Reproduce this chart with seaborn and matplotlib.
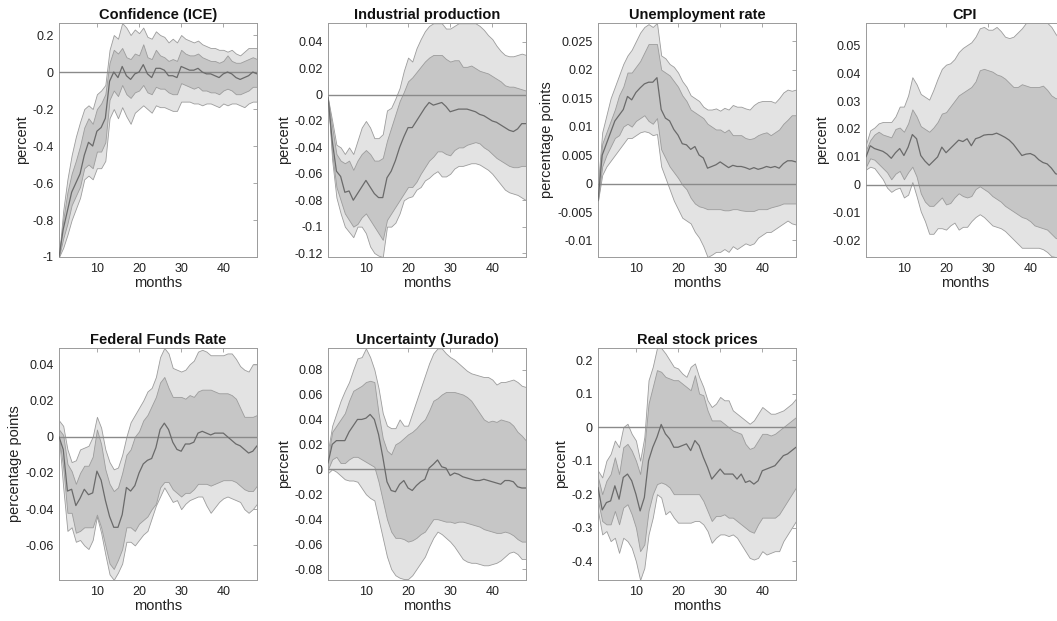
import matplotlib
matplotlib.use("Agg")
import matplotlib.pyplot as plt
import seaborn as sns
import numpy as np
import pandas as pd

months = list(range(1, 49))

# ---------------- Confidence (ICE) ----------------
conf_med = [-1, -0.85, -0.75, -0.65, -0.6, -0.55, -0.45, -0.38, -0.4, -0.32, -0.3, -0.25, -0.05, 0.0, -0.03, 0.03,
            -0.02, -0.04, -0.01, 0.0, 0.04, -0.01, -0.03, 0.02, 0.02, 0.01, -0.02, -0.02, -0.03, 0.03, 0.02, 0.01,
            0.01, 0.02, 0.0, -0.01, -0.01, -0.02, -0.03, -0.01, 0.0, -0.01, -0.03, -0.04, -0.03, -0.02, 0.0, -0.01]
conf_in_hi = [-1, -0.8, -0.65, -0.55, -0.48, -0.4, -0.3, -0.25, -0.28, -0.2, -0.17, -0.12, 0.05, 0.12, 0.1, 0.13,
              0.08, 0.07, 0.1, 0.09, 0.15, 0.08, 0.07, 0.12, 0.09, 0.08, 0.06, 0.07, 0.06, 0.12, 0.1, 0.09,
              0.09, 0.1, 0.08, 0.07, 0.06, 0.06, 0.05, 0.06, 0.09, 0.06, 0.05, 0.05, 0.06, 0.07, 0.08, 0.07]
conf_in_lo = [-1, -0.9, -0.82, -0.72, -0.67, -0.62, -0.52, -0.5, -0.52, -0.43, -0.43, -0.38, -0.15, -0.1, -0.13, -0.07,
              -0.12, -0.14, -0.11, -0.1, -0.07, -0.11, -0.12, -0.08, -0.09, -0.09, -0.11, -0.12, -0.12, -0.06, -0.07, -0.08,
              -0.09, -0.08, -0.1, -0.1, -0.11, -0.11, -0.12, -0.1, -0.09, -0.1, -0.12, -0.12, -0.11, -0.1, -0.08, -0.08]
conf_out_hi = [-1, -0.75, -0.58, -0.45, -0.35, -0.27, -0.2, -0.18, -0.2, -0.12, -0.1, -0.07, 0.12, 0.2, 0.18, 0.265,
               0.24, 0.2, 0.23, 0.21, 0.24, 0.19, 0.18, 0.22, 0.2, 0.19, 0.16, 0.18, 0.16, 0.2, 0.18, 0.17,
               0.16, 0.17, 0.15, 0.14, 0.13, 0.13, 0.12, 0.12, 0.11, 0.12, 0.1, 0.09, 0.11, 0.13, 0.13, 0.13]
conf_out_lo = [-1, -0.95, -0.88, -0.8, -0.74, -0.68, -0.58, -0.56, -0.58, -0.52, -0.52, -0.48, -0.25, -0.2, -0.25, -0.19,
               -0.24, -0.28, -0.22, -0.2, -0.18, -0.2, -0.22, -0.18, -0.19, -0.19, -0.2, -0.21, -0.21, -0.16, -0.16, -0.16,
               -0.17, -0.17, -0.18, -0.17, -0.17, -0.18, -0.19, -0.17, -0.18, -0.17, -0.17, -0.18, -0.19, -0.17, -0.16, -0.16]

# ---------------- Industrial production ----------------
ip_med = [-0.002, -0.035, -0.058, -0.062, -0.074, -0.073, -0.08, -0.075, -0.07, -0.065, -0.07, -0.075, -0.078, -0.078, -0.063, -0.058,
          -0.05, -0.04, -0.032, -0.025, -0.025, -0.02, -0.015, -0.01, -0.006, -0.008, -0.007, -0.006, -0.009, -0.013, -0.012, -0.011,
          -0.011, -0.011, -0.012, -0.013, -0.015, -0.016, -0.018, -0.02, -0.021, -0.023, -0.025, -0.027, -0.028, -0.026, -0.022, -0.022]
ip_in_hi = [-0.003, -0.025, -0.045, -0.05, -0.052, -0.05, -0.057, -0.05, -0.045, -0.042, -0.045, -0.05, -0.05, -0.048, -0.035, -0.025,
            -0.015, -0.005, 0.002, 0.01, 0.013, 0.017, 0.021, 0.025, 0.028, 0.03, 0.03, 0.03, 0.027, 0.025, 0.026, 0.026,
            0.021, 0.021, 0.022, 0.02, 0.018, 0.017, 0.016, 0.014, 0.012, 0.01, 0.007, 0.006, 0.006, 0.005, 0.004, 0.003]
ip_in_lo = [-0.003, -0.045, -0.07, -0.08, -0.09, -0.095, -0.1, -0.098, -0.093, -0.09, -0.095, -0.1, -0.105, -0.11, -0.095, -0.09,
            -0.085, -0.08, -0.075, -0.07, -0.07, -0.066, -0.06, -0.055, -0.05, -0.047, -0.043, -0.043, -0.045, -0.046, -0.042, -0.04,
            -0.04, -0.038, -0.037, -0.036, -0.037, -0.04, -0.042, -0.045, -0.048, -0.05, -0.052, -0.054, -0.055, -0.055, -0.054, -0.054]
ip_out_hi = [-0.003, -0.02, -0.038, -0.04, -0.045, -0.04, -0.045, -0.035, -0.025, -0.02, -0.025, -0.033, -0.033, -0.03, -0.012, -0.01,
             -0.003, 0.005, 0.018, 0.028, 0.025, 0.035, 0.042, 0.048, 0.052, 0.054, 0.054, 0.054, 0.05, 0.05, 0.052, 0.054,
             0.054, 0.054, 0.054, 0.054, 0.052, 0.049, 0.045, 0.042, 0.037, 0.033, 0.03, 0.029, 0.029, 0.03, 0.031, 0.03]
ip_out_lo = [-0.003, -0.05, -0.078, -0.09, -0.1, -0.104, -0.108, -0.1, -0.1, -0.105, -0.115, -0.12, -0.122, -0.123, -0.1, -0.1,
             -0.097, -0.09, -0.08, -0.078, -0.077, -0.072, -0.07, -0.065, -0.063, -0.06, -0.058, -0.062, -0.062, -0.06, -0.056, -0.054,
             -0.054, -0.053, -0.052, -0.052, -0.053, -0.055, -0.057, -0.06, -0.064, -0.068, -0.072, -0.074, -0.075, -0.076, -0.078, -0.08]

# ---------------- Unemployment rate ----------------
un_med = [-0.003, 0.005, 0.007, 0.009, 0.011, 0.012, 0.013, 0.0153, 0.0147, 0.016, 0.0168, 0.0175, 0.0178, 0.0178, 0.0186, 0.013,
          0.0115, 0.011, 0.0095, 0.0085, 0.007, 0.0068, 0.006, 0.0065, 0.005, 0.0045, 0.0027, 0.003, 0.0033, 0.0038, 0.0033, 0.0028,
          0.0032, 0.003, 0.003, 0.0028, 0.0025, 0.0028, 0.0025, 0.0027, 0.003, 0.0028, 0.003, 0.0027, 0.0035, 0.004, 0.004, 0.0038]
un_in_hi = [-0.001, 0.007, 0.009, 0.011, 0.013, 0.0155, 0.017, 0.0195, 0.0195, 0.0205, 0.0215, 0.023, 0.0245, 0.0245, 0.0245, 0.02,
            0.0195, 0.019, 0.018, 0.017, 0.0155, 0.0145, 0.013, 0.0125, 0.012, 0.0115, 0.0105, 0.01, 0.0095, 0.0095, 0.009, 0.0095,
            0.0085, 0.0085, 0.0085, 0.008, 0.0078, 0.008, 0.0085, 0.0088, 0.009, 0.0085, 0.009, 0.0095, 0.0105, 0.0112, 0.012, 0.012]
un_in_lo = [-0.003, 0.003, 0.005, 0.0065, 0.008, 0.0085, 0.01, 0.0105, 0.01, 0.011, 0.0115, 0.012, 0.011, 0.0105, 0.0115, 0.006,
            0.0045, 0.003, 0.002, 0.001, -0.0002, -0.001, -0.0025, -0.0035, -0.004, -0.0042, -0.0045, -0.0045, -0.0045, -0.0045, -0.0047, -0.0047,
            -0.0045, -0.0045, -0.0047, -0.0048, -0.0048, -0.0048, -0.0045, -0.0045, -0.0045, -0.0042, -0.004, -0.0038, -0.0035, -0.0035, -0.0035, -0.0035]
un_out_hi = [0.0, 0.009, 0.012, 0.015, 0.017, 0.019, 0.021, 0.0225, 0.0235, 0.025, 0.0265, 0.0275, 0.028, 0.0275, 0.0282, 0.0225,
             0.022, 0.021, 0.0205, 0.0195, 0.018, 0.017, 0.0155, 0.015, 0.0145, 0.0135, 0.013, 0.013, 0.0132, 0.0128, 0.0133, 0.013,
             0.0138, 0.0135, 0.0135, 0.0132, 0.013, 0.0138, 0.0143, 0.0145, 0.0145, 0.0145, 0.0142, 0.015, 0.016, 0.0165, 0.0163, 0.0165]
un_out_lo = [-0.003, 0.0015, 0.003, 0.004, 0.005, 0.006, 0.007, 0.008, 0.008, 0.0085, 0.009, 0.0092, 0.009, 0.0085, 0.0087, 0.003,
             0.001, -0.001, -0.003, -0.0045, -0.006, -0.0065, -0.007, -0.0085, -0.0095, -0.011, -0.0129, -0.0125, -0.012, -0.012, -0.0115, -0.012,
             -0.011, -0.0115, -0.011, -0.0105, -0.0108, -0.0105, -0.0095, -0.009, -0.0085, -0.0085, -0.008, -0.0075, -0.007, -0.0065, -0.007, -0.0072]

# ---------------- CPI ----------------
cpi_med = [0.01, 0.014, 0.013, 0.0125, 0.012, 0.011, 0.0095, 0.0115, 0.013, 0.0105, 0.0135, 0.018, 0.0165, 0.0105, 0.0085, 0.007,
           0.0085, 0.01, 0.0135, 0.0115, 0.013, 0.0145, 0.016, 0.0155, 0.0165, 0.014, 0.0165, 0.017, 0.0178, 0.018, 0.018, 0.0185,
           0.0178, 0.017, 0.016, 0.0145, 0.0125, 0.0105, 0.011, 0.0112, 0.0105, 0.009, 0.008, 0.0075, 0.006, 0.004, 0.0035, 0.0035]
cpi_in_hi = [0.0125, 0.016, 0.018, 0.019, 0.018, 0.0175, 0.017, 0.02, 0.0205, 0.019, 0.022, 0.027, 0.0245, 0.021, 0.02, 0.019,
             0.0205, 0.0225, 0.0255, 0.026, 0.028, 0.03, 0.032, 0.033, 0.034, 0.035, 0.037, 0.041, 0.0415, 0.041, 0.0405, 0.0395,
             0.039, 0.038, 0.0365, 0.035, 0.035, 0.036, 0.0355, 0.035, 0.035, 0.035, 0.0355, 0.034, 0.032, 0.031, 0.031, 0.031]
cpi_in_lo = [0.0065, 0.0095, 0.009, 0.0075, 0.006, 0.0045, 0.002, 0.004, 0.005, 0.002, 0.0045, 0.0065, 0.003, -0.003, -0.006, -0.0075,
             -0.0075, -0.006, -0.0045, -0.007, -0.0065, -0.0045, -0.003, -0.004, -0.0045, -0.004, -0.0015, -0.0005, -0.0015, -0.0025, -0.004, -0.005,
             -0.006, -0.0075, -0.0085, -0.0095, -0.0105, -0.0115, -0.012, -0.013, -0.0145, -0.015, -0.0155, -0.016, -0.0175, -0.019, -0.0195, -0.0195]
cpi_out_hi = [0.0145, 0.0195, 0.0205, 0.022, 0.0225, 0.0225, 0.0225, 0.0245, 0.028, 0.028, 0.032, 0.0385, 0.036, 0.0325, 0.0315, 0.0305,
              0.034, 0.038, 0.0415, 0.043, 0.0435, 0.045, 0.0475, 0.049, 0.05, 0.051, 0.053, 0.056, 0.0565, 0.0555, 0.0555, 0.0565,
              0.055, 0.053, 0.0525, 0.053, 0.0545, 0.056, 0.058, 0.058, 0.058, 0.058, 0.058, 0.058, 0.0565, 0.054, 0.052, 0.05]
cpi_out_lo = [0.0055, 0.0065, 0.006, 0.004, 0.002, -0.001, -0.0025, -0.0015, -0.001, -0.0045, -0.0035, 0.001, -0.004, -0.0095, -0.013, -0.0175,
              -0.0175, -0.0155, -0.0155, -0.016, -0.0145, -0.0135, -0.016, -0.015, -0.015, -0.013, -0.0115, -0.0105, -0.0115, -0.013, -0.0145, -0.015,
              -0.0155, -0.0165, -0.018, -0.0195, -0.021, -0.0225, -0.0225, -0.0225, -0.0225, -0.0225, -0.023, -0.024, -0.0255, -0.0258, -0.0258, -0.0258]

# ---------------- Federal Funds Rate ----------------
ffr_med = [0.0, -0.007, -0.03, -0.029, -0.038, -0.034, -0.029, -0.032, -0.031, -0.019, -0.024, -0.035, -0.044, -0.05, -0.05, -0.043,
           -0.028, -0.03, -0.027, -0.02, -0.015, -0.013, -0.012, -0.006, 0.004, 0.0075, 0.004, -0.003, -0.007, -0.008, -0.004, -0.004,
           -0.003, 0.002, 0.003, 0.002, 0.001, 0.002, 0.002, 0.002, 0.0, -0.002, -0.004, -0.005, -0.007, -0.009, -0.008, -0.005]
ffr_in_hi = [0.004, 0.001, -0.015, -0.019, -0.026, -0.02, -0.016, -0.016, -0.011, 0.004, -0.004, -0.018, -0.026, -0.03, -0.028, -0.02,
             -0.01, -0.007, 0.0, 0.003, 0.009, 0.012, 0.017, 0.022, 0.03, 0.033, 0.027, 0.022, 0.022, 0.022, 0.021, 0.023,
             0.022, 0.025, 0.026, 0.026, 0.026, 0.025, 0.024, 0.024, 0.024, 0.023, 0.021, 0.016, 0.011, 0.011, 0.011, 0.012]
ffr_in_lo = [0.0, -0.017, -0.042, -0.042, -0.053, -0.052, -0.05, -0.05, -0.05, -0.043, -0.05, -0.06, -0.07, -0.073, -0.068, -0.062,
             -0.05, -0.05, -0.052, -0.048, -0.046, -0.044, -0.04, -0.037, -0.028, -0.025, -0.025, -0.029, -0.031, -0.033, -0.031, -0.031,
             -0.029, -0.026, -0.026, -0.026, -0.027, -0.026, -0.025, -0.024, -0.024, -0.024, -0.025, -0.027, -0.029, -0.03, -0.03, -0.027]
ffr_out_hi = [0.009, 0.006, -0.007, -0.014, -0.013, -0.007, -0.006, -0.005, 0.0, 0.011, 0.005, -0.007, -0.014, -0.018, -0.017, -0.01,
              0.0, 0.008, 0.012, 0.016, 0.02, 0.025, 0.027, 0.033, 0.044, 0.049, 0.046, 0.038, 0.037, 0.036, 0.037, 0.04,
              0.042, 0.047, 0.048, 0.047, 0.045, 0.045, 0.045, 0.045, 0.046, 0.046, 0.043, 0.039, 0.037, 0.036, 0.04, 0.04]
ffr_out_lo = [0.0, -0.028, -0.052, -0.05, -0.058, -0.057, -0.06, -0.062, -0.057, -0.044, -0.053, -0.065, -0.076, -0.079, -0.075, -0.07,
              -0.058, -0.058, -0.06, -0.057, -0.054, -0.052, -0.045, -0.038, -0.033, -0.028, -0.032, -0.036, -0.035, -0.04, -0.037, -0.035,
              -0.034, -0.033, -0.033, -0.038, -0.042, -0.039, -0.036, -0.034, -0.033, -0.034, -0.035, -0.036, -0.04, -0.042, -0.04, -0.037]

# ---------------- Uncertainty (Jurado) ----------------
unc_med = [0.005, 0.02, 0.023, 0.023, 0.023, 0.03, 0.035, 0.04, 0.04, 0.041, 0.044, 0.04, 0.028, 0.01, -0.01, -0.017,
           -0.018, -0.012, -0.009, -0.015, -0.017, -0.013, -0.01, -0.008, 0.001, 0.004, 0.0075, 0.002, 0.001, -0.005, -0.003, -0.004,
           -0.006, -0.007, -0.008, -0.009, -0.009, -0.008, -0.009, -0.01, -0.011, -0.012, -0.009, -0.009, -0.01, -0.014, -0.015, -0.015]
unc_in_hi = [0.01, 0.03, 0.035, 0.04, 0.045, 0.055, 0.063, 0.065, 0.067, 0.07, 0.071, 0.07, 0.045, 0.025, 0.015, 0.012,
             0.02, 0.022, 0.025, 0.028, 0.03, 0.033, 0.037, 0.04, 0.047, 0.055, 0.057, 0.06, 0.062, 0.062, 0.062, 0.061,
             0.06, 0.058, 0.055, 0.05, 0.045, 0.04, 0.038, 0.039, 0.038, 0.04, 0.039, 0.038, 0.035, 0.03, 0.027, 0.023]
unc_in_lo = [0.0, 0.008, 0.01, 0.005, 0.005, 0.008, 0.01, 0.01, 0.008, 0.006, 0.004, 0.002, -0.01, -0.025, -0.04, -0.05,
             -0.055, -0.055, -0.056, -0.058, -0.057, -0.055, -0.052, -0.05, -0.045, -0.04, -0.04, -0.041, -0.042, -0.042, -0.043, -0.042,
             -0.042, -0.043, -0.044, -0.045, -0.046, -0.048, -0.049, -0.05, -0.051, -0.051, -0.05, -0.051, -0.053, -0.056, -0.058, -0.058]
unc_out_hi = [0.015, 0.035, 0.045, 0.055, 0.063, 0.07, 0.08, 0.089, 0.09, 0.097, 0.09, 0.08, 0.065, 0.045, 0.035, 0.033,
              0.033, 0.04, 0.035, 0.035, 0.045, 0.055, 0.065, 0.075, 0.085, 0.093, 0.097, 0.097, 0.093, 0.09, 0.088, 0.085,
              0.082, 0.079, 0.077, 0.076, 0.075, 0.074, 0.074, 0.072, 0.068, 0.07, 0.07, 0.071, 0.072, 0.07, 0.067, 0.066]
unc_out_lo = [-0.003, 0.0, -0.002, -0.005, -0.008, -0.009, -0.009, -0.01, -0.015, -0.02, -0.023, -0.025, -0.04, -0.055, -0.07, -0.08,
              -0.085, -0.087, -0.088, -0.088, -0.085, -0.08, -0.075, -0.07, -0.062, -0.055, -0.05, -0.052, -0.055, -0.058, -0.062, -0.067,
              -0.072, -0.074, -0.075, -0.075, -0.076, -0.077, -0.077, -0.076, -0.075, -0.073, -0.07, -0.067, -0.066, -0.068, -0.072, -0.072]

# ---------------- Real stock prices ----------------
sp_med = [-0.18, -0.247, -0.225, -0.22, -0.175, -0.215, -0.15, -0.14, -0.16, -0.2, -0.25, -0.21, -0.1, -0.06, -0.03, 0.008,
          -0.02, -0.035, -0.06, -0.06, -0.055, -0.05, -0.07, -0.04, -0.055, -0.09, -0.12, -0.155, -0.14, -0.125, -0.14, -0.14,
          -0.14, -0.155, -0.14, -0.165, -0.16, -0.17, -0.16, -0.13, -0.125, -0.12, -0.115, -0.1, -0.085, -0.08, -0.07, -0.06]
sp_in_hi = [-0.15, -0.2, -0.16, -0.14, -0.09, -0.14, -0.06, -0.05, -0.07, -0.1, -0.14, -0.06, 0.07, 0.12, 0.17, 0.165,
            0.15, 0.145, 0.14, 0.14, 0.13, 0.12, 0.11, 0.155, 0.1, 0.095, 0.05, 0.02, 0.02, 0.02, 0.01, 0.0,
            -0.01, -0.015, -0.02, -0.05, -0.065, -0.06, -0.04, -0.02, -0.02, -0.025, -0.02, -0.01, 0.0, 0.01, 0.02, 0.03]
sp_in_lo = [-0.22, -0.28, -0.29, -0.29, -0.25, -0.29, -0.24, -0.23, -0.26, -0.3, -0.37, -0.35, -0.25, -0.2, -0.17, -0.165,
            -0.17, -0.18, -0.2, -0.2, -0.2, -0.2, -0.2, -0.2, -0.2, -0.22, -0.25, -0.28, -0.265, -0.265, -0.26, -0.27,
            -0.27, -0.28, -0.29, -0.3, -0.31, -0.315, -0.29, -0.27, -0.27, -0.27, -0.27, -0.26, -0.24, -0.22, -0.2, -0.18]
sp_out_hi = [-0.13, -0.15, -0.1, -0.08, -0.04, -0.06, 0.0, 0.01, -0.02, -0.04, -0.1, -0.03, 0.14, 0.18, 0.236, 0.236,
             0.22, 0.2, 0.18, 0.175, 0.16, 0.15, 0.18, 0.19, 0.15, 0.12, 0.08, 0.06, 0.07, 0.09, 0.08, 0.08,
             0.05, 0.04, 0.03, 0.02, 0.01, 0.02, 0.04, 0.06, 0.05, 0.04, 0.04, 0.045, 0.05, 0.06, 0.07, 0.085]
sp_out_lo = [-0.25, -0.32, -0.31, -0.34, -0.33, -0.375, -0.33, -0.34, -0.36, -0.4, -0.456, -0.42, -0.32, -0.27, -0.2, -0.21,
             -0.26, -0.25, -0.27, -0.285, -0.285, -0.285, -0.285, -0.28, -0.28, -0.29, -0.31, -0.345, -0.33, -0.32, -0.32, -0.325,
             -0.32, -0.33, -0.35, -0.37, -0.39, -0.395, -0.39, -0.37, -0.38, -0.375, -0.37, -0.37, -0.34, -0.32, -0.3, -0.28]

titles = ["Confidence (ICE)", "Industrial production", "Unemployment rate", "CPI",
          "Federal Funds Rate", "Uncertainty (Jurado)", "Real stock prices"]
ylabels = ["percent", "percent", "percentage points", "percent",
           "percentage points", "percent", "percent"]
x_ticks = [10, 20, 30, 40]
y_ticks = [
    [-1, -0.8, -0.6, -0.4, -0.2, 0, 0.2],
    [-0.12, -0.1, -0.08, -0.06, -0.04, -0.02, 0, 0.02, 0.04],
    [-0.01, -0.005, 0, 0.005, 0.01, 0.015, 0.02, 0.025],
    [-0.02, -0.01, 0, 0.01, 0.02, 0.03, 0.04, 0.05],
    [-0.06, -0.04, -0.02, 0, 0.02, 0.04],
    [-0.08, -0.06, -0.04, -0.02, 0, 0.02, 0.04, 0.06, 0.08],
    [-0.4, -0.3, -0.2, -0.1, 0, 0.1, 0.2],
]
y_limits = [(-1, 0.265), (-0.123, 0.0542), (-0.0129, 0.0282), (-0.0258, 0.0579),
            (-0.0791, 0.049), (-0.0888, 0.0973), (-0.456, 0.236)]

panels = [
    (conf_med, conf_in_lo, conf_in_hi, conf_out_lo, conf_out_hi),
    (ip_med, ip_in_lo, ip_in_hi, ip_out_lo, ip_out_hi),
    (un_med, un_in_lo, un_in_hi, un_out_lo, un_out_hi),
    (cpi_med, cpi_in_lo, cpi_in_hi, cpi_out_lo, cpi_out_hi),
    (ffr_med, ffr_in_lo, ffr_in_hi, ffr_out_lo, ffr_out_hi),
    (unc_med, unc_in_lo, unc_in_hi, unc_out_lo, unc_out_hi),
    (sp_med, sp_in_lo, sp_in_hi, sp_out_lo, sp_out_hi),
]

sns.set_theme(style="white")
plt.rcParams["font.family"] = ["Liberation Sans", "DejaVu Sans"]
plt.rcParams["axes.unicode_minus"] = False

W, H = 1057, 621
fig = plt.figure(figsize=(W / 100, H / 100), dpi=100)

col_left = [59, 328, 598, 866]
ax_w = 198
rows = [(23, 257), (348, 580)]

OUTER = "#e3e3e3"
INNER = "#c6c6c6"
EDGE = "#9c9c9c"
MED = "#6a6a6a"
ZERO = "#8a8a8a"
SPINE = "#9a9a9a"


def fmt(v):
    v = round(v, 6) + 0.0
    return f"{v:g}"


for i, (title, ylab, yt, yl, data) in enumerate(zip(titles, ylabels, y_ticks, y_limits, panels)):
    r, c = divmod(i, 4)
    top, bot = rows[r]
    left = col_left[c]
    ax = fig.add_axes([left / W, (H - bot) / H, ax_w / W, (bot - top) / H])
    med, in_lo, in_hi, out_lo, out_hi = data
    df = pd.DataFrame({"month": months, "median": med})
    ax.fill_between(months, out_lo, out_hi, facecolor=OUTER, edgecolor=EDGE, linewidth=0.6, zorder=1)
    ax.fill_between(months, in_lo, in_hi, facecolor=INNER, edgecolor=EDGE, linewidth=0.6, zorder=2)
    ax.axhline(0, color=ZERO, linewidth=1.0, zorder=3)
    sns.lineplot(data=df, x="month", y="median", ax=ax, color=MED, linewidth=0.9, zorder=4)
    ax.set_xlim(1, 48)
    ax.set_ylim(*yl)
    ax.set_xticks(x_ticks)
    ax.set_xticklabels([str(t) for t in x_ticks])
    ax.set_yticks(yt)
    ax.set_yticklabels([fmt(t) for t in yt])
    ax.tick_params(axis="both", direction="in", length=3, width=0.6, color=SPINE,
                   labelsize=9, labelcolor="#222222", top=True, right=True, pad=4)
    for s in ax.spines.values():
        s.set_visible(True)
        s.set_color(SPINE)
        s.set_linewidth(0.7)
    ax.set_title(title, fontsize=10.5, fontweight="bold", color="#111111", pad=3)
    ax.set_xlabel("months", fontsize=10.5, color="#222222", labelpad=1)
    ax.set_ylabel(ylab, fontsize=10.5, color="#222222", labelpad=2)
    ax.grid(False)

fig.savefig("out.png", dpi=100)
